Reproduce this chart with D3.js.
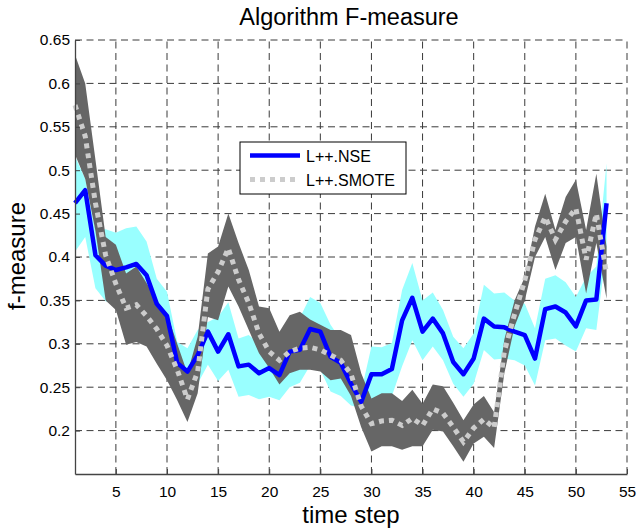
<!DOCTYPE html>
<html><head><meta charset="utf-8">
<script src="https://cdn.jsdelivr.net/npm/d3@7"></script>
<style>
body{margin:0;background:#fff}
svg{display:block;font-family:"Liberation Sans",Arial,Helvetica,sans-serif}
</style>
</head><body>
<svg id="chart" width="638" height="529"></svg>
<script>
const timeSteps = d3.range(1, 54);
const nseMean = [0.462,0.477,0.402,0.390,0.385,0.388,0.392,0.379,0.346,0.332,
  0.278,0.268,0.287,0.314,0.291,0.311,0.274,0.276,0.266,0.272,
  0.264,0.291,0.293,0.317,0.314,0.285,0.278,0.254,0.233,0.265,
  0.265,0.271,0.327,0.353,0.314,0.329,0.312,0.279,0.265,0.283,
  0.329,0.320,0.319,0.314,0.310,0.283,0.340,0.343,0.336,0.320,
  0.350,0.351,0.462];
const nseUpper = [0.516,0.490,0.431,0.432,0.428,0.433,0.435,0.418,0.375,0.360,
  0.302,0.295,0.316,0.325,0.331,0.348,0.306,0.310,0.300,0.300,
  0.290,0.310,0.330,0.354,0.347,0.322,0.305,0.280,0.245,0.297,
  0.296,0.301,0.362,0.393,0.350,0.359,0.339,0.308,0.295,0.312,
  0.368,0.358,0.359,0.350,0.346,0.318,0.375,0.379,0.371,0.354,
  0.377,0.389,0.508];
const nseLower = [0.406,0.423,0.364,0.349,0.345,0.350,0.355,0.340,0.315,0.300,
  0.258,0.250,0.254,0.276,0.257,0.270,0.239,0.241,0.236,0.239,
  0.235,0.250,0.255,0.275,0.270,0.245,0.240,0.229,0.226,0.232,
  0.235,0.240,0.274,0.304,0.281,0.297,0.281,0.254,0.239,0.254,
  0.293,0.282,0.283,0.281,0.275,0.252,0.304,0.306,0.298,0.291,
  0.318,0.316,0.410];
const smoteMean = [0.575,0.539,0.462,0.402,0.369,0.341,0.345,0.332,0.317,0.298,
  0.270,0.236,0.268,0.363,0.383,0.410,0.374,0.347,0.312,0.291,
  0.281,0.291,0.295,0.296,0.293,0.287,0.281,0.265,0.228,0.208,
  0.211,0.212,0.206,0.214,0.206,0.225,0.220,0.204,0.187,0.203,
  0.213,0.203,0.291,0.334,0.373,0.420,0.446,0.420,0.441,0.456,
  0.397,0.450,0.381];
const smoteUpper = [0.633,0.600,0.512,0.423,0.414,0.381,0.389,0.370,0.350,0.335,
  0.300,0.266,0.308,0.404,0.412,0.450,0.416,0.385,0.343,0.341,
  0.314,0.333,0.337,0.328,0.322,0.316,0.316,0.310,0.266,0.237,
  0.243,0.243,0.234,0.247,0.231,0.253,0.251,0.232,0.212,0.230,
  0.240,0.221,0.305,0.350,0.377,0.435,0.473,0.431,0.469,0.489,
  0.431,0.496,0.412];
const smoteLower = [0.518,0.490,0.430,0.350,0.339,0.299,0.302,0.297,0.277,0.258,
  0.235,0.210,0.243,0.331,0.327,0.366,0.343,0.316,0.289,0.272,
  0.253,0.266,0.270,0.270,0.268,0.258,0.260,0.240,0.204,0.176,
  0.182,0.182,0.178,0.182,0.182,0.201,0.199,0.182,0.164,0.185,
  0.193,0.180,0.266,0.320,0.350,0.400,0.423,0.385,0.416,0.423,
  0.358,0.416,0.352];
const xTicks = [5,10,15,20,25,30,35,40,45,50,55];
const yTicks = [0.2,0.25,0.3,0.35,0.4,0.45,0.5,0.55,0.6,0.65];
const yTickLabels = ["0.2","0.25","0.3","0.35","0.4","0.45","0.5","0.55","0.6","0.65"];
const seriesNames = ["L++.NSE","L++.SMOTE"];

const svg = d3.select("#chart");
const L = 75, R = 627, T = 40, B = 474;
const x = d3.scaleLinear().domain([1,55]).range([L,R]);
const y = d3.scaleLinear().domain([0.15,0.65]).range([B,T]);

// grid
const grid = svg.append("g").attr("stroke","#3a3a3a").attr("stroke-width",1).attr("stroke-dasharray","7,4.5");
xTicks.forEach(v => grid.append("line").attr("x1",x(v)).attr("x2",x(v)).attr("y1",B).attr("y2",T));
yTicks.forEach(v => grid.append("line").attr("x1",L).attr("x2",R).attr("y1",y(v)).attr("y2",y(v)));

const idx = timeSteps.map((t,i)=>i);
const areaOf = (lo, hi) => d3.area().x(i=>x(timeSteps[i])).y0(i=>y(lo[i])).y1(i=>y(hi[i]));
const lineOf = (m) => d3.line().x(i=>x(timeSteps[i])).y(i=>y(m[i]));

svg.append("path").attr("d", areaOf(nseLower,nseUpper)(idx)).attr("fill","#99ffff");
svg.append("path").attr("d", areaOf(smoteLower,smoteUpper)(idx)).attr("fill","#666666");
svg.append("path").attr("d", lineOf(nseMean)(idx)).attr("fill","none").attr("stroke","#0000ff").attr("stroke-width",4.5).attr("stroke-linejoin","round");
svg.append("path").attr("d", lineOf(smoteMean)(idx)).attr("fill","none").attr("stroke","#cccccc").attr("stroke-width",5).attr("stroke-dasharray","5,5");

// axes
const xAxis = svg.append("g").attr("transform",`translate(0,${B})`)
  .call(d3.axisBottom(x).tickValues(xTicks).tickSize(-5).tickSizeOuter(0).tickPadding(12));
const yAxis = svg.append("g").attr("transform",`translate(${L},0)`)
  .call(d3.axisLeft(y).tickValues(yTicks).tickFormat((d,i)=>yTickLabels[i]).tickSize(-5).tickSizeOuter(0).tickPadding(5));
[xAxis,yAxis].forEach(g=>{
  g.select(".domain").attr("stroke","#444").attr("stroke-width",1.3);
  g.selectAll(".tick line").attr("stroke","#444");
  g.selectAll("text").attr("font-size",15.5).attr("fill","#000").attr("font-family",'"Liberation Sans",Arial,sans-serif');
});

// titles
svg.append("text").attr("x",349).attr("y",25).attr("text-anchor","middle").attr("font-size",23.5).text("Algorithm F-measure");
svg.append("text").attr("x",351).attr("y",523).attr("text-anchor","middle").attr("font-size",24).text("time step");
svg.append("text").attr("transform","translate(25,256) rotate(-90)").attr("text-anchor","middle").attr("font-size",24).text("f-measure");

// legend
const lg = svg.append("g");
lg.append("rect").attr("x",240).attr("y",142).attr("width",166).attr("height",52).attr("fill","#fff").attr("stroke","#000").attr("stroke-width",1);
lg.append("line").attr("x1",250).attr("x2",300).attr("y1",155.5).attr("y2",155.5).attr("stroke","#0000ff").attr("stroke-width",4.5);
lg.append("line").attr("x1",250).attr("x2",300).attr("y1",179.5).attr("y2",179.5).attr("stroke","#cccccc").attr("stroke-width",5).attr("stroke-dasharray","5,5");
lg.append("text").attr("x",306).attr("y",161.5).attr("font-size",16).text(seriesNames[0]);
lg.append("text").attr("x",306).attr("y",185.5).attr("font-size",16).text(seriesNames[1]);
</script>
</body></html>
